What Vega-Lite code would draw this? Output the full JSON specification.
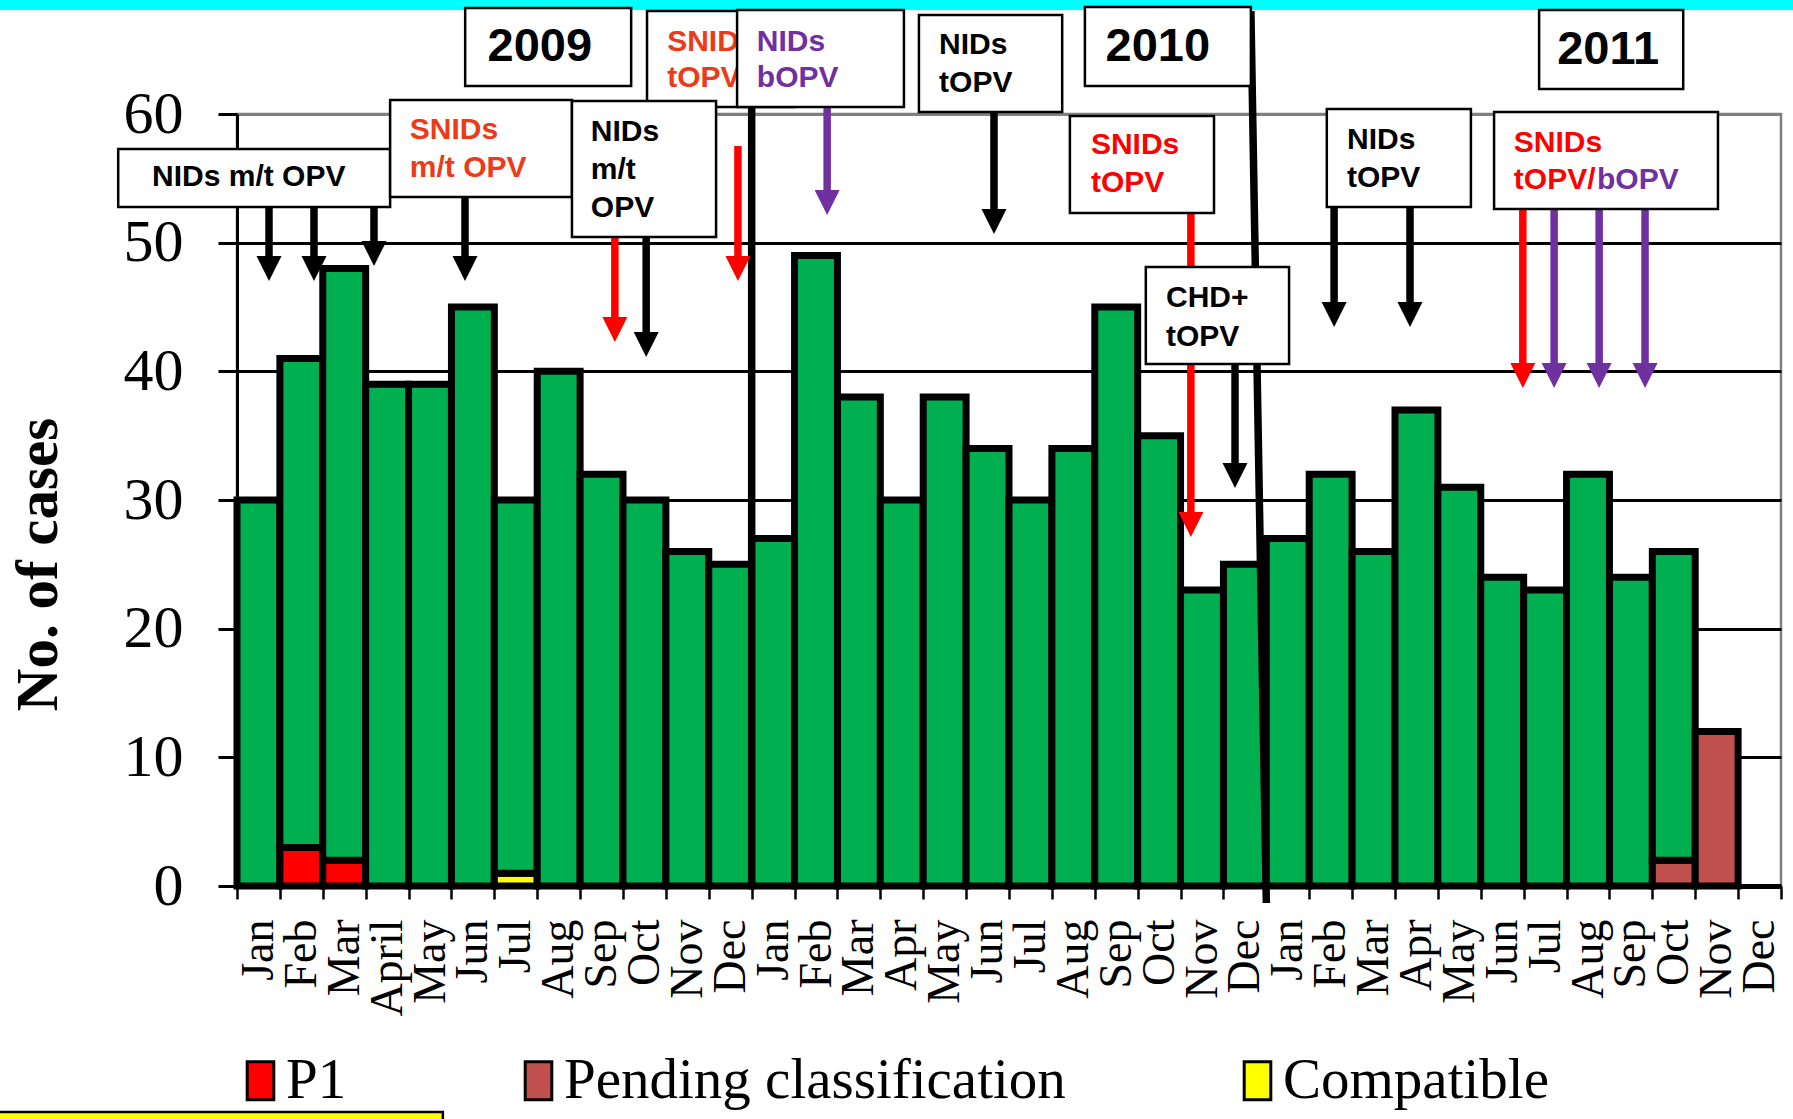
{
  "$schema": "https://vega.github.io/schema/vega-lite/v6.json",
  "width": 1544,
  "height": 772,
  "autosize": {"type": "none"},
  "padding": {"left": 237, "top": 114, "right": 12, "bottom": 233},
  "background": "white",
  "config": {
    "view": {"stroke": "#808080", "strokeWidth": 2.5},
    "font": "Liberation Sans"
  },
  "datasets": {
    "bars": [
      {"period": "Jan 2009", "cat": "NPAFP", "n": 30, "ord": 2},
      {"period": "Feb 2009", "cat": "P1", "n": 3, "ord": 1},
      {"period": "Feb 2009", "cat": "NPAFP", "n": 38, "ord": 2},
      {"period": "Mar 2009", "cat": "P1", "n": 2, "ord": 1},
      {"period": "Mar 2009", "cat": "NPAFP", "n": 46, "ord": 2},
      {"period": "April 2009", "cat": "NPAFP", "n": 39, "ord": 2},
      {"period": "May 2009", "cat": "NPAFP", "n": 39, "ord": 2},
      {"period": "Jun 2009", "cat": "NPAFP", "n": 45, "ord": 2},
      {"period": "Jul 2009", "cat": "Compatible", "n": 1, "ord": 1},
      {"period": "Jul 2009", "cat": "NPAFP", "n": 29, "ord": 2},
      {"period": "Aug 2009", "cat": "NPAFP", "n": 40, "ord": 2},
      {"period": "Sep 2009", "cat": "NPAFP", "n": 32, "ord": 2},
      {"period": "Oct 2009", "cat": "NPAFP", "n": 30, "ord": 2},
      {"period": "Nov 2009", "cat": "NPAFP", "n": 26, "ord": 2},
      {"period": "Dec 2009", "cat": "NPAFP", "n": 25, "ord": 2},
      {"period": "Jan 2010", "cat": "NPAFP", "n": 27, "ord": 2},
      {"period": "Feb 2010", "cat": "NPAFP", "n": 49, "ord": 2},
      {"period": "Mar 2010", "cat": "NPAFP", "n": 38, "ord": 2},
      {"period": "Apr 2010", "cat": "NPAFP", "n": 30, "ord": 2},
      {"period": "May 2010", "cat": "NPAFP", "n": 38, "ord": 2},
      {"period": "Jun 2010", "cat": "NPAFP", "n": 34, "ord": 2},
      {"period": "Jul 2010", "cat": "NPAFP", "n": 30, "ord": 2},
      {"period": "Aug 2010", "cat": "NPAFP", "n": 34, "ord": 2},
      {"period": "Sep 2010", "cat": "NPAFP", "n": 45, "ord": 2},
      {"period": "Oct 2010", "cat": "NPAFP", "n": 35, "ord": 2},
      {"period": "Nov 2010", "cat": "NPAFP", "n": 23, "ord": 2},
      {"period": "Dec 2010", "cat": "NPAFP", "n": 25, "ord": 2},
      {"period": "Jan 2011", "cat": "NPAFP", "n": 27, "ord": 2},
      {"period": "Feb 2011", "cat": "NPAFP", "n": 32, "ord": 2},
      {"period": "Mar 2011", "cat": "NPAFP", "n": 26, "ord": 2},
      {"period": "Apr 2011", "cat": "NPAFP", "n": 37, "ord": 2},
      {"period": "May 2011", "cat": "NPAFP", "n": 31, "ord": 2},
      {"period": "Jun 2011", "cat": "NPAFP", "n": 24, "ord": 2},
      {"period": "Jul 2011", "cat": "NPAFP", "n": 23, "ord": 2},
      {"period": "Aug 2011", "cat": "NPAFP", "n": 32, "ord": 2},
      {"period": "Sep 2011", "cat": "NPAFP", "n": 24, "ord": 2},
      {"period": "Oct 2011", "cat": "Pending classification", "n": 2, "ord": 1},
      {"period": "Oct 2011", "cat": "NPAFP", "n": 24, "ord": 2},
      {"period": "Nov 2011", "cat": "Pending classification", "n": 12, "ord": 1}
    ],
    "ann": [
      {"kind": "strip", "x": -6, "x2": 37, "y": 70, "y2": 68.08},
      {"kind": "ybox", "x": -6, "x2": 4.8, "y": -17.56, "y2": -19.5},
      {"kind": "div", "x": 12.0, "x2": 12.0, "y": 61, "y2": 0},
      {"kind": "div", "x": 23.64, "x2": 24.0, "y": 68.0, "y2": -1.32},
      {"kind": "arrow", "x": 0.746, "y": 52.77, "y2": 47.02, "c": "NIDs"},
      {"kind": "arrow", "x": 1.795, "y": 52.77, "y2": 47.02, "c": "NIDs"},
      {"kind": "arrow", "x": 3.194, "y": 52.77, "y2": 48.19, "c": "NIDs"},
      {"kind": "arrow", "x": 5.316, "y": 53.55, "y2": 47.02, "c": "NIDs"},
      {"kind": "arrow", "x": 8.81, "y": 50.44, "y2": 42.28, "c": "SNIDs"},
      {"kind": "arrow", "x": 9.54, "y": 50.44, "y2": 41.11, "c": "NIDs"},
      {"kind": "arrow", "x": 11.68, "y": 57.51, "y2": 47.02, "c": "SNIDs"},
      {"kind": "arrow", "x": 13.76, "y": 60.54, "y2": 52.15, "c": "bOPV"},
      {"kind": "arrow", "x": 17.65, "y": 60.15, "y2": 50.67, "c": "NIDs"},
      {"kind": "arrow", "x": 22.24, "y": 52.3, "y2": 27.12, "c": "SNIDs"},
      {"kind": "arrow", "x": 23.27, "y": 40.57, "y2": 30.93, "c": "NIDs"},
      {"kind": "arrow", "x": 25.58, "y": 52.77, "y2": 43.44, "c": "NIDs"},
      {"kind": "arrow", "x": 27.35, "y": 52.77, "y2": 43.44, "c": "NIDs"},
      {"kind": "arrow", "x": 29.98, "y": 52.61, "y2": 38.7, "c": "SNIDs"},
      {"kind": "arrow", "x": 30.71, "y": 52.61, "y2": 38.7, "c": "bOPV"},
      {"kind": "arrow", "x": 31.76, "y": 52.61, "y2": 38.7, "c": "bOPV"},
      {"kind": "arrow", "x": 32.83, "y": 52.61, "y2": 38.7, "c": "bOPV"},
      {"kind": "box0", "x": 9.56, "x2": 13.0, "y": 68.0, "y2": 60.54},
      {"kind": "txt0", "x": 10.03, "y": 65.6, "t": "SNIDs", "c": "SNIDs 2009"},
      {"kind": "txt0", "x": 10.03, "y": 62.8, "t": "tOPV", "c": "SNIDs 2009"},
      {"kind": "box", "x": -2.77, "x2": 3.57, "y": 57.28, "y2": 52.77},
      {"kind": "box", "x": 3.57, "x2": 7.81, "y": 61.09, "y2": 53.55},
      {"kind": "box", "x": 7.81, "x2": 11.17, "y": 61.01, "y2": 50.44},
      {"kind": "box", "x": 11.66, "x2": 15.55, "y": 68.08, "y2": 60.54},
      {"kind": "box", "x": 15.9, "x2": 19.24, "y": 67.69, "y2": 60.15},
      {"kind": "box", "x": 19.42, "x2": 22.78, "y": 59.84, "y2": 52.3},
      {"kind": "box", "x": 21.19, "x2": 24.53, "y": 48.11, "y2": 40.57},
      {"kind": "box", "x": 25.41, "x2": 28.77, "y": 60.39, "y2": 52.77},
      {"kind": "box", "x": 29.31, "x2": 34.53, "y": 60.15, "y2": 52.61},
      {"kind": "box", "x": 5.32, "x2": 9.19, "y": 68.24, "y2": 62.17},
      {"kind": "box", "x": 19.77, "x2": 23.64, "y": 68.31, "y2": 62.17},
      {"kind": "box", "x": 30.36, "x2": 33.72, "y": 68.08, "y2": 61.94},
      {"kind": "txt", "x": -1.98, "y": 55.1, "t": "NIDs m/t OPV", "c": "NIDs"},
      {"kind": "txt", "x": 4.03, "y": 58.75, "t": "SNIDs", "c": "SNIDs 2009"},
      {"kind": "txt", "x": 4.03, "y": 55.8, "t": "m/t OPV", "c": "SNIDs 2009"},
      {"kind": "txt", "x": 8.25, "y": 58.6, "t": "NIDs", "c": "NIDs"},
      {"kind": "txt", "x": 8.25, "y": 55.65, "t": "m/t", "c": "NIDs"},
      {"kind": "txt", "x": 8.25, "y": 52.69, "t": "OPV", "c": "NIDs"},
      {"kind": "txt", "x": 12.12, "y": 65.6, "t": "NIDs", "c": "bOPV"},
      {"kind": "txt", "x": 12.12, "y": 62.8, "t": "bOPV", "c": "bOPV"},
      {"kind": "txt", "x": 16.37, "y": 65.36, "t": "NIDs", "c": "NIDs"},
      {"kind": "txt", "x": 16.37, "y": 62.41, "t": "tOPV", "c": "NIDs"},
      {"kind": "txt", "x": 19.91, "y": 57.59, "t": "SNIDs", "c": "SNIDs"},
      {"kind": "txt", "x": 19.91, "y": 54.64, "t": "tOPV", "c": "SNIDs"},
      {"kind": "txt", "x": 21.66, "y": 45.7, "t": "CHD+", "c": "NIDs"},
      {"kind": "txt", "x": 21.66, "y": 42.67, "t": "tOPV", "c": "NIDs"},
      {"kind": "txt", "x": 25.88, "y": 58.0, "t": "NIDs", "c": "NIDs"},
      {"kind": "txt", "x": 25.88, "y": 55.03, "t": "tOPV", "c": "NIDs"},
      {"kind": "txt", "x": 29.77, "y": 57.77, "t": "SNIDs", "c": "SNIDs"},
      {"kind": "txt", "x": 29.77, "y": 54.87, "t": "tOPV/", "c": "SNIDs"},
      {"kind": "txt", "x": 31.71, "y": 54.87, "t": "bOPV", "c": "bOPV"},
      {"kind": "year", "x": 7.06, "y": 65.21, "t": "2009", "c": "NIDs"},
      {"kind": "year", "x": 21.47, "y": 65.2, "t": "2010", "c": "NIDs"},
      {"kind": "year", "x": 31.97, "y": 64.97, "t": "2011", "c": "NIDs"}
    ]
  },
  "layer": [
    {
      "data": {"name": "bars"},
      "mark": {"type": "bar", "stroke": "black", "strokeWidth": 7, "strokeJoin": "miter"},
      "encoding": {
        "x": {
          "field": "period",
          "type": "ordinal",
          "sort": null,
          "scale": {
            "domain": ["Jan 2009", "Feb 2009", "Mar 2009", "April 2009", "May 2009", "Jun 2009", "Jul 2009", "Aug 2009", "Sep 2009", "Oct 2009", "Nov 2009", "Dec 2009",
                       "Jan 2010", "Feb 2010", "Mar 2010", "Apr 2010", "May 2010", "Jun 2010", "Jul 2010", "Aug 2010", "Sep 2010", "Oct 2010", "Nov 2010", "Dec 2010",
                       "Jan 2011", "Feb 2011", "Mar 2011", "Apr 2011", "May 2011", "Jun 2011", "Jul 2011", "Aug 2011", "Sep 2011", "Oct 2011", "Nov 2011", "Dec 2011"],
            "paddingInner": 0,
            "paddingOuter": 0
          },
          "title": null,
          "axis": {
            "labelExpr": "split(datum.label, ' ')[0]",
            "labelAngle": -90,
            "labelAlign": "right",
            "labelBaseline": "middle",
            "labelFont": "Liberation Serif",
            "labelFontSize": 46,
            "labelColor": "black",
            "labelPadding": 20,
            "labelOverlap": false,
            "labelBound": false,
            "tickBand": "extent",
            "tickSize": 13,
            "tickWidth": 2.5,
            "tickColor": "black",
            "domainColor": "black",
            "domainWidth": 5,
            "grid": false
          }
        },
        "y": {
          "field": "n",
          "type": "quantitative",
          "stack": "zero",
          "title": "No. of  cases",
          "scale": {"domain": [0, 60], "nice": false, "zero": true},
          "axis": {
            "values": [0, 10, 20, 30, 40, 50, 60],
            "labelFont": "Liberation Serif",
            "labelFontSize": 60,
            "labelColor": "black",
            "labelPadding": 35,
            "tickSize": 19,
            "tickWidth": 3,
            "tickColor": "black",
            "domainColor": "black",
            "domainWidth": 3,
            "grid": true,
            "gridColor": {"condition": {"test": "datum.value === 60", "value": "#808080"}, "value": "black"},
            "gridWidth": 3,
            "gridOpacity": 1,
            "titleFont": "Liberation Serif",
            "titleFontWeight": "bold",
            "titleFontSize": 59,
            "titleColor": "black",
            "titleAngle": -90,
            "titleAlign": "center",
            "titleBaseline": "middle",
            "titleX": -199,
            "titleY": 450
          }
        },
        "fill": {
          "field": "cat",
          "type": "nominal",
          "scale": {
            "domain": ["P1", "Pending classification", "Compatible", "NPAFP"],
            "range": ["#FF0000", "#C0504D", "#FFFF00", "#00B050"]
          },
          "legend": {
            "values": ["P1", "Pending classification", "Compatible"],
            "orient": "none",
            "legendX": -5,
            "legendY": 938,
            "direction": "horizontal",
            "columns": 3,
            "columnPadding": 163,
            "title": null,
            "padding": 0,
            "labelFont": "Liberation Serif",
            "labelFontSize": 57,
            "labelColor": "black",
            "labelOffset": -3,
            "labelLimit": 0,
            "symbolType": "M-0.7,-1L0.7,-1L0.7,1L-0.7,1Z",
            "symbolSize": 1444,
            "symbolStrokeColor": "black",
            "symbolStrokeWidth": 3,
            "symbolOpacity": 1
          }
        },
        "order": {"field": "ord", "type": "quantitative"}
      }
    },
    {
      "data": {"name": "ann"},
      "layer": [
        {
          "transform": [{"filter": "datum.kind === 'strip'"}],
          "mark": {"type": "rect", "fill": "#00FFFF", "clip": false},
          "encoding": {
            "x": {"field": "x", "type": "quantitative", "scale": {"domain": [0, 36], "nice": false, "zero": false}, "axis": null},
            "x2": {"field": "x2"},
            "y": {"field": "y", "type": "quantitative", "scale": {"domain": [0, 60], "nice": false}, "title": "No. of  cases"},
            "y2": {"field": "y2"}
          }
        },
        {
          "transform": [{"filter": "datum.kind === 'ybox'"}],
          "mark": {"type": "rect", "fill": "#FFFF00", "stroke": "black", "strokeWidth": 2.5, "clip": false},
          "encoding": {
            "x": {"field": "x", "type": "quantitative", "scale": {"domain": [0, 36], "nice": false, "zero": false}, "axis": null},
            "x2": {"field": "x2"},
            "y": {"field": "y", "type": "quantitative", "scale": {"domain": [0, 60], "nice": false}, "title": "No. of  cases"},
            "y2": {"field": "y2"}
          }
        },
        {
          "transform": [{"filter": "datum.kind === 'div'"}],
          "mark": {"type": "rule", "stroke": "black", "strokeWidth": 7.5, "clip": false},
          "encoding": {
            "x": {"field": "x", "type": "quantitative", "scale": {"domain": [0, 36], "nice": false, "zero": false}, "axis": null},
            "x2": {"field": "x2"},
            "y": {"field": "y", "type": "quantitative", "scale": {"domain": [0, 60], "nice": false}, "title": "No. of  cases"},
            "y2": {"field": "y2"}
          }
        },
        {
          "transform": [{"filter": "datum.kind === 'arrow'"}],
          "mark": {"type": "rule", "strokeWidth": 7.5, "y2Offset": -12, "clip": false},
          "encoding": {
            "x": {"field": "x", "type": "quantitative", "scale": {"domain": [0, 36], "nice": false, "zero": false}, "axis": null},
            "y": {"field": "y", "type": "quantitative", "scale": {"domain": [0, 60], "nice": false}, "title": "No. of  cases"},
            "y2": {"field": "y2"},
            "color": {"field": "c", "type": "nominal", "scale": {"domain": ["NIDs", "SNIDs 2009", "SNIDs", "bOPV"], "range": ["#000000", "#EC3B16", "#FF0000", "#7030A0"]}, "legend": null}
          }
        },
        {
          "transform": [{"filter": "datum.kind === 'arrow'"}],
          "mark": {"type": "point", "shape": "M-1,-2L1,-2L0,0Z", "size": 625, "filled": true, "opacity": 1, "strokeWidth": 0, "clip": false},
          "encoding": {
            "x": {"field": "x", "type": "quantitative", "scale": {"domain": [0, 36], "nice": false, "zero": false}, "axis": null},
            "y": {"field": "y2", "type": "quantitative", "scale": {"domain": [0, 60], "nice": false}, "title": "No. of  cases"},
            "color": {"field": "c", "type": "nominal", "scale": {"domain": ["NIDs", "SNIDs 2009", "SNIDs", "bOPV"], "range": ["#000000", "#EC3B16", "#FF0000", "#7030A0"]}, "legend": null}
          }
        },
        {
          "transform": [{"filter": "datum.kind === 'box0'"}],
          "mark": {"type": "rect", "fill": "white", "stroke": "black", "strokeWidth": 2.5, "clip": false},
          "encoding": {
            "x": {"field": "x", "type": "quantitative", "scale": {"domain": [0, 36], "nice": false, "zero": false}, "axis": null},
            "x2": {"field": "x2"},
            "y": {"field": "y", "type": "quantitative", "scale": {"domain": [0, 60], "nice": false}, "title": "No. of  cases"},
            "y2": {"field": "y2"}
          }
        },
        {
          "transform": [{"filter": "datum.kind === 'txt0'"}],
          "mark": {"type": "text", "align": "left", "baseline": "middle", "font": "Liberation Sans", "fontWeight": "bold", "fontSize": 30, "clip": false},
          "encoding": {
            "x": {"field": "x", "type": "quantitative", "scale": {"domain": [0, 36], "nice": false, "zero": false}, "axis": null},
            "y": {"field": "y", "type": "quantitative", "scale": {"domain": [0, 60], "nice": false}, "title": "No. of  cases"},
            "text": {"field": "t"},
            "color": {"field": "c", "type": "nominal", "scale": {"domain": ["NIDs", "SNIDs 2009", "SNIDs", "bOPV"], "range": ["#000000", "#EC3B16", "#FF0000", "#7030A0"]}, "legend": null}
          }
        },
        {
          "transform": [{"filter": "datum.kind === 'box'"}],
          "mark": {"type": "rect", "fill": "white", "stroke": "black", "strokeWidth": 2.5, "clip": false},
          "encoding": {
            "x": {"field": "x", "type": "quantitative", "scale": {"domain": [0, 36], "nice": false, "zero": false}, "axis": null},
            "x2": {"field": "x2"},
            "y": {"field": "y", "type": "quantitative", "scale": {"domain": [0, 60], "nice": false}, "title": "No. of  cases"},
            "y2": {"field": "y2"}
          }
        },
        {
          "transform": [{"filter": "datum.kind === 'txt'"}],
          "mark": {"type": "text", "align": "left", "baseline": "middle", "font": "Liberation Sans", "fontWeight": "bold", "fontSize": 30, "clip": false},
          "encoding": {
            "x": {"field": "x", "type": "quantitative", "scale": {"domain": [0, 36], "nice": false, "zero": false}, "axis": null},
            "y": {"field": "y", "type": "quantitative", "scale": {"domain": [0, 60], "nice": false}, "title": "No. of  cases"},
            "text": {"field": "t"},
            "color": {"field": "c", "type": "nominal", "scale": {"domain": ["NIDs", "SNIDs 2009", "SNIDs", "bOPV"], "range": ["#000000", "#EC3B16", "#FF0000", "#7030A0"]}, "legend": null}
          }
        },
        {
          "transform": [{"filter": "datum.kind === 'year'"}],
          "mark": {"type": "text", "align": "center", "baseline": "middle", "font": "Liberation Sans", "fontWeight": "bold", "fontSize": 47, "fill": "black", "clip": false},
          "encoding": {
            "x": {"field": "x", "type": "quantitative", "scale": {"domain": [0, 36], "nice": false, "zero": false}, "axis": null},
            "y": {"field": "y", "type": "quantitative", "scale": {"domain": [0, 60], "nice": false}, "title": "No. of  cases"},
            "text": {"field": "t"}
          }
        }
      ]
    }
  ],
  "resolve": {"scale": {"x": "independent"}, "axis": {"x": "independent"}}
}
